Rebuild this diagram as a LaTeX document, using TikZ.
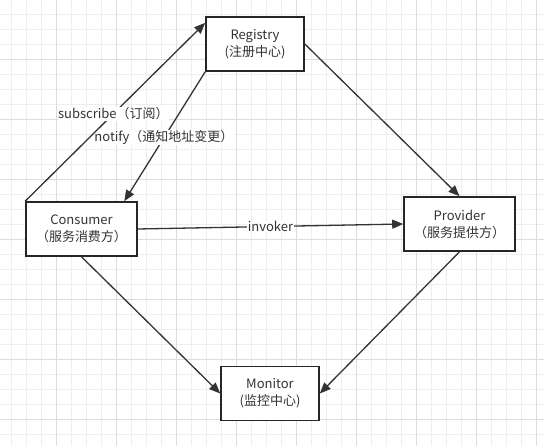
\documentclass[tikz,border=0pt]{standalone}
\usepackage{fontspec}
\setmainfont{Noto Sans CJK SC}
\usetikzlibrary{arrows.meta}

\definecolor{gridminor}{HTML}{EEEEEE}
\definecolor{gridmajor}{HTML}{DDDDDD}
\definecolor{ink}{HTML}{333333}

\tikzset{
  box/.style={draw=black!85, line width=1.6pt, fill=white, minimum height=54pt,
    align=center, text=ink, inner sep=0pt, font=\fontsize{13}{17}\selectfont},
  link/.style={draw=ink, line width=1.3pt, -{Triangle[length=11pt,width=9pt]}},
  lab/.style={fill=white, text=ink, inner sep=0.6pt, font=\fontsize{13}{14}\selectfont},
}

\begin{document}
\begin{tikzpicture}[x=1pt, y=-1pt]
\useasboundingbox (0,0) rectangle (544,446);
\fill[white] (0,0) rectangle (544,446);
% grid
\foreach \x in {11.7,26.7,...,544} \draw[gridminor, line width=0.8pt] (\x,0) -- (\x,446);
\foreach \y in {14.3,29.3,...,446} \draw[gridminor, line width=0.8pt] (0,\y) -- (544,\y);
\foreach \x in {56.7,116.7,...,544} \draw[gridmajor, line width=0.8pt] (\x,0) -- (\x,446);
\foreach \y in {59.3,119.3,...,446} \draw[gridmajor, line width=0.8pt] (0,\y) -- (544,\y);

\node[box, minimum width=98pt] (registry) at (255,44) {Registry\\(注册中心)};
\node[box, minimum width=111pt] (consumer) at (81.5,229) {Consumer\\（服务消费方）};
\node[box, minimum width=111pt] (provider) at (459.5,224) {Provider\\（服务提供方）};
\node[box, minimum width=98pt] (monitor) at (270,393.5) {Monitor\\(监控中心)};

\draw[link] (registry.south west) -- (consumer.33) node[lab, pos=0.51] {notify（通知地址变更）};
\draw[link] (consumer.north west) -- (registry.157) node[lab, pos=0.49] {subscribe（订阅）};
\draw[link] (registry.east) -- (provider.north);
\draw[link] (consumer.east) -- (provider.west) node[lab, pos=0.5] {invoker};
\draw[link] (consumer.south) -- (monitor.west);
\draw[link] (provider.south) -- (monitor.east);
%\draw (registry) -- (monitor);

\end{tikzpicture}
\end{document}
